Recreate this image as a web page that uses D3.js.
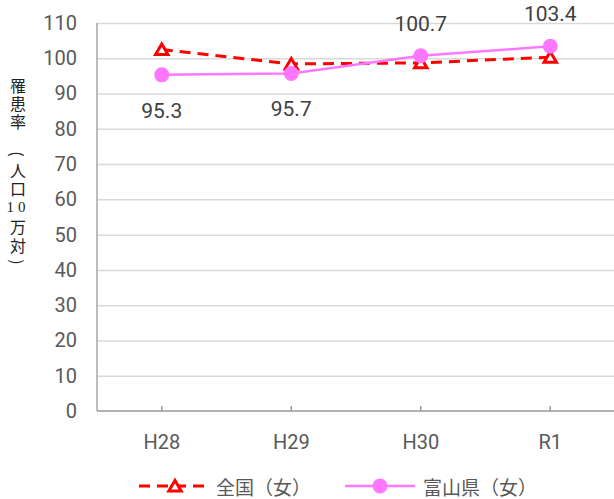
<!DOCTYPE html>
<html>
<head>
<meta charset="utf-8">
<script src="https://cdn.jsdelivr.net/npm/d3@7"></script>
<style>
  html, body { margin: 0; padding: 0; background: #fff; }
  svg { display: block; }
</style>
</head>
<body>
<div id="chart"></div>
<script>
// data
const categories = ["H28", "H29", "H30", "R1"];
const nationalValues = [102.5, 98.4, 98.7, 100.3];
const toyamaValues = [95.3, 95.7, 100.7, 103.4];
const yTicks = [0, 10, 20, 30, 40, 50, 60, 70, 80, 90, 100, 110];
const seriesNames = ["全国（女）", "富山県（女）"];
const titleChars = ["罹", "患", "率", "（", "人", "口", "10", "万", "対", "）"];

const width = 614,
  height = 499,
  marginTop = 23,
  marginRight = -1,
  marginBottom = 88,
  marginLeft = 97,
  gray = "#595959",
  gridColor = "#d9d9d9",
  axisColor = "#a6a6a6",
  red = "#ff0000",
  pink = "#ff77ff",
  numFont = "Roboto, 'Liberation Sans', sans-serif",
  jpFont = "'Noto Sans CJK JP', sans-serif";

const xScale = d3
  .scaleBand(categories, [marginLeft, width - marginRight])
  .padding(0);
const yScale = d3.scaleLinear([0, 110], [height - marginBottom, marginTop]);
const cx = (c) => xScale(c) + xScale.bandwidth() / 2;

const svg = d3
  .select("#chart")
  .append("svg")
  .attr("width", width)
  .attr("height", height)
  .attr("viewBox", [0, 0, width, height]);

// gridlines
svg
  .append("g")
  .attr("transform", `translate(${marginLeft},0)`)
  .call(
    d3
      .axisLeft(yScale)
      .tickValues(yTicks.filter((d) => d > 0))
      .tickSize(-(width - marginLeft))
      .tickFormat("")
  )
  .call((g) => g.select(".domain").remove())
  .call((g) =>
    g.selectAll(".tick line").attr("stroke", gridColor).attr("stroke-width", 1.5)
  );

// y axis labels
svg
  .append("g")
  .attr("transform", `translate(${marginLeft},0)`)
  .call(d3.axisLeft(yScale).tickValues(yTicks).tickSize(0).tickPadding(20))
  .call((g) => g.select(".domain").remove())
  .call((g) =>
    g
      .selectAll(".tick text")
      .attr("font-size", 20)
      .attr("font-family", numFont)
      .attr("fill", gray)
  );

// left axis line
svg
  .append("line")
  .attr("x1", marginLeft)
  .attr("x2", marginLeft)
  .attr("y1", yScale(110))
  .attr("y2", yScale(0))
  .attr("stroke", axisColor)
  .attr("stroke-width", 1.5);

// x axis
svg
  .append("g")
  .attr("transform", `translate(0,${yScale(0)})`)
  .call(d3.axisBottom(xScale).tickSize(0).tickPadding(24))
  .call((g) => g.select(".domain").remove())
  .call((g) =>
    g
      .selectAll(".tick text")
      .attr("font-size", 20)
      .attr("font-family", numFont)
      .attr("fill", gray)
  );

svg
  .append("line")
  .attr("x1", marginLeft)
  .attr("x2", width)
  .attr("y1", yScale(0))
  .attr("y2", yScale(0))
  .attr("stroke", "#999")
  .attr("stroke-width", 1.5);

svg
  .append("g")
  .selectAll("line")
  .data(categories)
  .join("line")
  .attr("x1", cx)
  .attr("x2", cx)
  .attr("y1", yScale(0))
  .attr("y2", yScale(0) - 5)
  .attr("stroke", "#999")
  .attr("stroke-width", 1.5);

// y title (vertical, one glyph per cell, brackets turned)
const titleY = [85, 103, 121, 154, 170, 188, 207, 226, 245, 262];
svg
  .append("g")
  .selectAll("text")
  .data(titleChars)
  .join("text")
  .attr("transform", (d, i) => {
    const rot = d === "（" || d === "）" ? " rotate(90)" : "";
    return `translate(18,${titleY[i]})${rot}`;
  })
  .attr("text-anchor", "middle")
  .attr("dominant-baseline", "central")
  .attr("font-size", (d) => (d === "10" ? 15 : 16))
  .attr("letter-spacing", (d) => (d === "10" ? 4 : 0))
  .attr("font-family", (d) => (d === "10" ? "'Liberation Serif', serif" : jpFont))
  .attr("fill", "#222")
  .text((d) => (d === "（" ? "(" : d === "）" ? ")" : d));

const triangle = "M0,-5.5L6.2,5L-6.2,5Z";

// national line
const line = d3
  .line()
  .x((d, i) => cx(categories[i]))
  .y((d) => yScale(d));

svg
  .append("path")
  .datum(nationalValues)
  .attr("d", line)
  .attr("fill", "none")
  .attr("stroke", red)
  .attr("stroke-width", 3)
  .attr("stroke-dasharray", "11,7");

svg
  .append("g")
  .selectAll("path")
  .data(nationalValues)
  .join("path")
  .attr("d", triangle)
  .attr("transform", (d, i) => `translate(${cx(categories[i])},${yScale(d)})`)
  .attr("fill", "#fff")
  .attr("stroke", red)
  .attr("stroke-width", 3);

// toyama line
svg
  .append("path")
  .datum(toyamaValues)
  .attr("d", line)
  .attr("fill", "none")
  .attr("stroke", pink)
  .attr("stroke-width", 2.5);

svg
  .append("g")
  .selectAll("circle")
  .data(toyamaValues)
  .join("circle")
  .attr("cx", (d, i) => cx(categories[i]))
  .attr("cy", (d) => yScale(d))
  .attr("r", 7.5)
  .attr("fill", pink);

// data labels: below for first two, above for last two
svg
  .append("g")
  .selectAll("text")
  .data(toyamaValues)
  .join("text")
  .attr("x", (d, i) => cx(categories[i]))
  .attr("y", (d, i) => (i < 2 ? yScale(d) + 43 : yScale(d) - 25))
  .attr("text-anchor", "middle")
  .attr("font-size", 21)
  .attr("font-family", numFont)
  .attr("fill", "#404040")
  .text((d) => d.toFixed(1));

// legend
const legendY = 486;
const legend = svg.append("g");

legend
  .append("line")
  .attr("x1", 139)
  .attr("x2", 207)
  .attr("y1", legendY)
  .attr("y2", legendY)
  .attr("stroke", red)
  .attr("stroke-width", 3)
  .attr("stroke-dasharray", "11,7");
legend
  .append("path")
  .attr("d", triangle)
  .attr("transform", `translate(175,${legendY})`)
  .attr("fill", "#fff")
  .attr("stroke", red)
  .attr("stroke-width", 3);
legend
  .append("text")
  .attr("x", 216)
  .attr("y", legendY)
  .attr("dominant-baseline", "central")
  .attr("font-size", 19)
  .attr("font-family", jpFont)
  .attr("fill", gray)
  .text(seriesNames[0]);

legend
  .append("line")
  .attr("x1", 345)
  .attr("x2", 415)
  .attr("y1", legendY)
  .attr("y2", legendY)
  .attr("stroke", pink)
  .attr("stroke-width", 2.5);
legend
  .append("circle")
  .attr("cx", 380)
  .attr("cy", legendY)
  .attr("r", 7.5)
  .attr("fill", pink);
legend
  .append("text")
  .attr("x", 423)
  .attr("y", legendY)
  .attr("dominant-baseline", "central")
  .attr("font-size", 19)
  .attr("font-family", jpFont)
  .attr("fill", gray)
  .text(seriesNames[1]);
</script>
</body>
</html>
